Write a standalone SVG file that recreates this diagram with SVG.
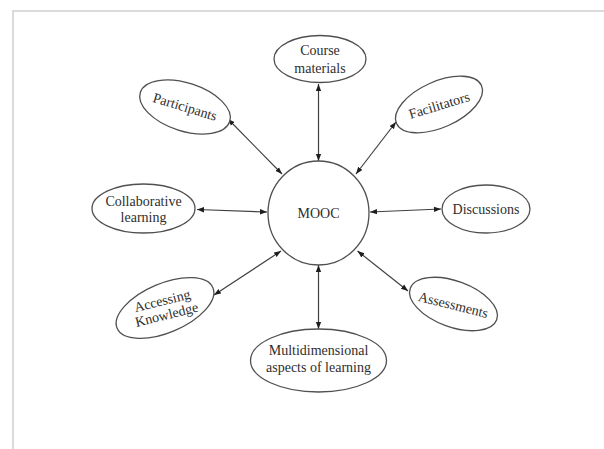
<svg xmlns="http://www.w3.org/2000/svg" width="604" height="449" viewBox="0 0 604 449">
  <style>
    .shape { fill: #ffffff; stroke: #505050; stroke-width: 1.3; }
    .label { font-family: "Liberation Serif", "Times New Roman", serif; font-size: 14px; fill: #2e2e2e; text-anchor: middle; }
    .link { fill: none; stroke: #404040; stroke-width: 1.2; marker-start: url(#tip); marker-end: url(#tip); }
    .frame { fill: none; stroke: #cfcfcf; stroke-width: 1.5; }
  </style>
  <defs>
    <marker id="tip" viewBox="0 0 10 10" refX="10" refY="5" markerWidth="7" markerHeight="7" markerUnits="userSpaceOnUse" orient="auto-start-reverse">
      <path d="M0,1.2 L10,5 L0,8.8 Z" fill="#1e1e1e"/>
    </marker>
  </defs>

  <rect width="604" height="449" fill="#ffffff"/>
  <path class="frame" d="M13,449 V11 H604"/>

  <!-- connectors: every spoke is double-headed -->
  <g id="connectors">
    <path class="link" d="M318.5,84 L318.5,161"/>
    <path class="link" d="M228,119 L282,174"/>
    <path class="link" d="M396,122 L356,174"/>
    <path class="link" d="M197,209.5 L267,212"/>
    <path class="link" d="M370,212 L441,209"/>
    <path class="link" d="M214,295 L281,251"/>
    <path class="link" d="M408,291 L357.5,251"/>
    <path class="link" d="M318.5,265 L318.5,329"/>
  </g>

  <g id="mooc">
    <ellipse class="shape" cx="318.5" cy="213" rx="50.5" ry="52"/>
    <text class="label" x="318.5" y="217.7">MOOC</text>
  </g>

  <g id="course-materials">
    <ellipse class="shape" cx="320" cy="59" rx="46" ry="23.5"/>
    <text class="label" x="320" y="55">Course</text>
    <text class="label" x="320" y="72.5">materials</text>
  </g>

  <g id="participants" transform="translate(185,107)">
    <ellipse class="shape" rx="47" ry="24" transform="rotate(18)"/>
    <text class="label" x="0" y="4.5" transform="rotate(17)">Participants</text>
  </g>

  <g id="facilitators" transform="translate(439,104.5)">
    <ellipse class="shape" rx="46.5" ry="23" transform="rotate(-24)"/>
    <text class="label" x="0" y="5.5" transform="rotate(-17)">Facilitators</text>
  </g>

  <g id="collaborative-learning">
    <ellipse class="shape" cx="143.5" cy="208.5" rx="51.5" ry="24.5"/>
    <text class="label" x="143.5" y="205.5">Collaborative</text>
    <text class="label" x="143.5" y="221.5">learning</text>
  </g>

  <g id="discussions">
    <ellipse class="shape" cx="486" cy="209" rx="44" ry="24"/>
    <text class="label" x="486" y="213.5">Discussions</text>
  </g>

  <g id="accessing-knowledge" transform="translate(165,308)">
    <ellipse class="shape" rx="52" ry="24.5" transform="rotate(-23)"/>
    <g transform="rotate(-14)">
      <text class="label" x="-1" y="-3">Accessing</text>
      <text class="label" x="0" y="11.5">Knowledge</text>
    </g>
  </g>

  <g id="assessments" transform="translate(453.5,304)">
    <ellipse class="shape" rx="46" ry="23" transform="rotate(20)"/>
    <text class="label" x="0" y="5.5" transform="rotate(14)">Assessments</text>
  </g>

  <g id="multidimensional-aspects">
    <ellipse class="shape" cx="318.5" cy="360.5" rx="68" ry="31.5"/>
    <text class="label" x="318.5" y="355">Multidimensional</text>
    <text class="label" x="318.5" y="371.5">aspects of learning</text>
  </g>
</svg>
